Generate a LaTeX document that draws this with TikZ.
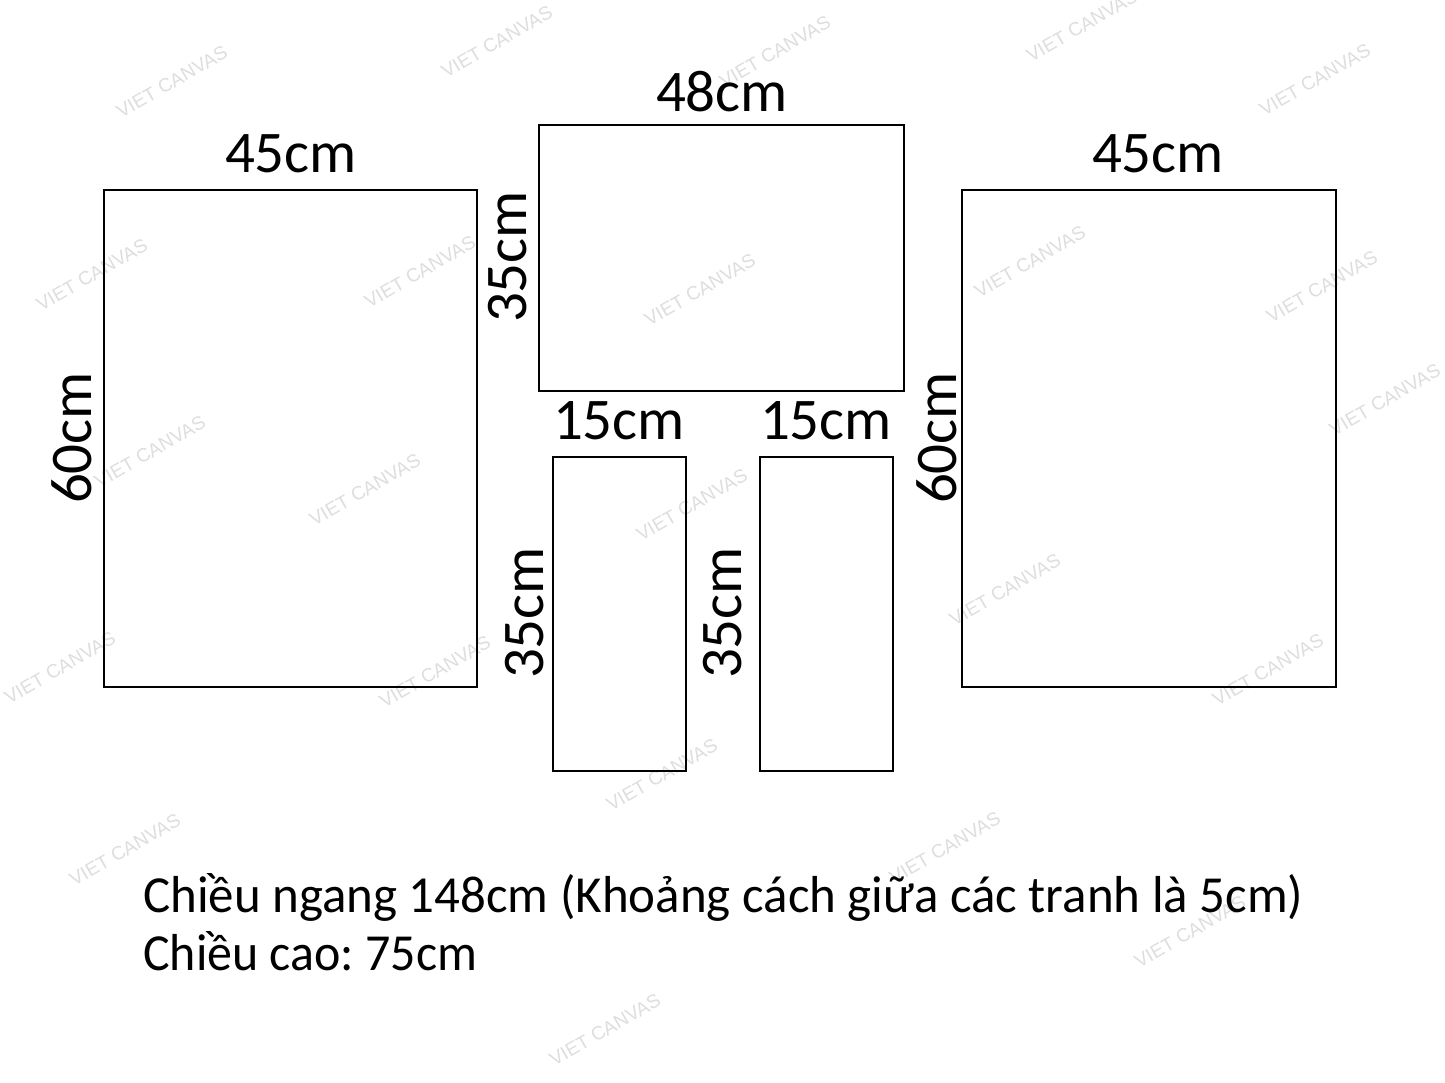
\documentclass[tikz,border=0pt]{standalone}
\usepackage{fontspec}
\setmainfont{Carlito}
\newfontfamily\wmfont{Liberation Sans}
\begin{document}
\frenchspacing
\begin{tikzpicture}[x=1pt,y=-1pt,
  panel/.style={draw=black,line width=2.4pt,fill=none},
  dimlabel/.style={inner sep=0pt,font=\fontsize{59}{60}\selectfont},
  vlabel/.style={dimlabel,rotate=90,anchor=base},
  hlabel/.style={dimlabel,anchor=base},
  note/.style={inner sep=0pt,anchor=base west,font=\fontsize{52}{56}\selectfont},
  wm/.style={inner sep=0pt,rotate=30,text=black!13,font=\wmfont\fontsize{19}{20}\selectfont}]
\useasboundingbox[fill=white] (0,0) rectangle (1445,1083);
% watermarks
\foreach \i/\x/\y in {1/172/82,2/497/42,3/775/52,4/1082/26,5/1315/80,6/92/275,7/420/272,8/700/290,9/1030/262,10/1322/287,11/150/452,12/365/490,13/692/505,14/1385/400,15/1005/590,16/60/668,17/435/672,18/1268/670,19/662/775,20/125/850,21/945/848,22/1190/932,23/605/1030}
  \node[wm] (wm\i) at (\x,\y) {VIET CANVAS};
% panels
\draw[panel] (104,190) rectangle (477,687) coordinate (pl);
\draw[panel] (539,125) rectangle (904,391) coordinate (pt);
\draw[panel] (553,457) rectangle (686,771) coordinate (ps1);
\draw[panel] (760,457) rectangle (893,771) coordinate (ps2);
\draw[panel] (962,190) rectangle (1336,687) coordinate (pr);
% labels
\node[hlabel] (l45a) at (291,173) {45cm};
\node[hlabel] (l48) at (722,112) {48cm};
\node[hlabel] (l45b) at (1158,173) {45cm};
\node[hlabel] (l15a) at (619,439) {15cm};
\node[hlabel] (l15b) at (826,439) {15cm};
\node[vlabel] (l60a) at (91,438) {60cm};
\node[vlabel] (l60b) at (956,438) {60cm};
\node[vlabel] (l35t) at (526,257) {35cm};
\node[vlabel] (l35a) at (543,613) {35cm};
\node[vlabel] (l35b) at (741,613) {35cm};
% notes
\node[note] (n1) at (143,912) {\resizebox{1160pt}{\height}{Chiều ngang 148cm (Khoảng cách giữa các tranh là 5cm)}};
\node[note] (n2) at (143,970) {\resizebox{334pt}{\height}{Chiều cao: 75cm}};
\end{tikzpicture}
\end{document}
